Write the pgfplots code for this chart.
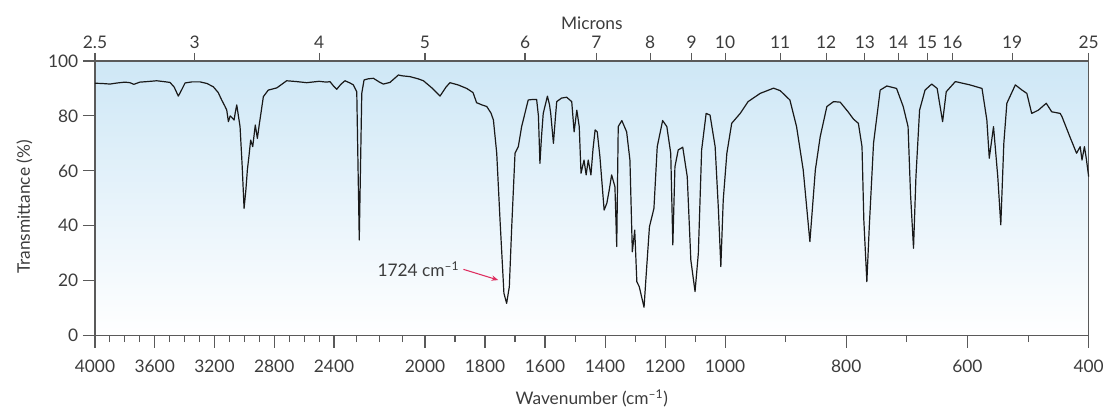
\documentclass[border=0pt]{standalone}
\usepackage{fontspec}
\setmainfont{Lato}
\usepackage{pgfplots}
\pgfplotsset{compat=1.18}
\usetikzlibrary{arrows.meta}
\definecolor{axgray}{RGB}{90,90,90}
\definecolor{txtgray}{RGB}{60,60,60}
\definecolor{bgblue}{RGB}{206,231,246}
\definecolor{arrowred}{RGB}{222,45,95}
\definecolor{specblack}{RGB}{25,25,25}

\pgfplotsset{
  irtrafo/.style={
    x coord trafo/.code={\pgfmathparse{(##1>=2400) ? ((4000-##1)*0.149375) : ((##1>=2000) ? (239+(2400-##1)*0.2275) : ((##1>=1000) ? (330+(2000-##1)*0.3) : (630+(1000-##1)*0.606)))}},
  },
  common/.style={
    irtrafo,
    scale only axis, width=745.3pt, height=205.9pt,
    xmin=4000, xmax=400, ymin=0, ymax=100,
    tick align=outside,
    /pgf/number format/assume math mode=true,
    ticklabel style={font=\fontsize{13}{15}\selectfont, text=txtgray},
    label style={font=\fontsize{13}{15}\selectfont, text=txtgray},
  }
}

\pgfplotstableread{
w T
4000 91.9
3950 91.8
3900 91.6
3850 92.0
3800 92.3
3766 92.1
3740 91.5
3700 92.3
3650 92.5
3587 92.8
3540 92.5
3498 92.2
3470 90.5
3442 87.2
3420 89.5
3397 92.0
3350 92.4
3297 92.4
3250 91.8
3208 90.6
3175 88.5
3152 85.8
3130 83.5
3118 82.1
3107 77.9
3095 80.0
3085 79.5
3069 78.5
3060 81.5
3051 84.0
3040 80.0
3029 76.1
3015 62.0
3002 46.3
2990 53.0
2980 60.3
2968 66.0
2958 71.2
2944 68.8
2935 73.0
2927 76.7
2913 71.8
2900 77.0
2891 80.3
2873 87.0
2840 89.4
2783 90.2
2750 91.5
2717 92.8
2650 92.5
2583 92.1
2500 92.6
2450 92.3
2427 92.5
2405 91.0
2388 89.7
2370 91.5
2352 92.8
2330 92.0
2315 91.3
2300 88.8
2289 34.8
2278 88.2
2268 93.1
2250 93.5
2227 93.7
2200 92.3
2183 91.6
2154 92.2
2117 94.9
2100 94.6
2066 94.3
2030 93.5
2007 92.8
1975 90.0
1950 87.2
1930 90.5
1917 92.1
1890 91.3
1861 90.0
1840 88.5
1828 84.8
1810 84.0
1794 83.4
1780 81.0
1772 78.5
1761 66.4
1750 42.1
1737 15.4
1728 11.7
1719 17.8
1711 39.6
1700 66.4
1689 68.8
1678 76.1
1656 85.8
1640 86.0
1628 86.0
1622 80.0
1617 62.7
1612 72.0
1606 80.9
1592 87.2
1585 84.0
1581 80.9
1572 70.0
1565 80.0
1561 85.2
1545 86.5
1528 86.8
1511 85.2
1503 74.2
1494 82.1
1486 76.1
1480 59.1
1470 63.9
1463 58.5
1456 63.9
1447 58.5
1440 68.0
1433 74.9
1426 74.2
1417 65.1
1403 45.7
1394 48.2
1386 53.0
1378 58.5
1367 54.2
1361 32.4
1356 76.1
1344 78.3
1328 74.2
1317 63.9
1309 30.5
1301 38.4
1294 19.6
1286 17.8
1270 10.3
1261 25.1
1252 39.6
1237 46.3
1226 68.8
1208 78.3
1194 76.1
1181 66.4
1174 33.0
1167 61.5
1156 67.6
1141 68.6
1126 57.9
1114 27.5
1100 16.0
1089 29.9
1078 67.6
1063 80.9
1050 80.3
1033 68.8
1022 45.7
1014 25.1
1006 49.4
997 66.4
989 77.3
975 80.9
962 85.2
942 88.2
920 90.1
909 89.2
893 85.8
882 76.1
871 60.3
860 34.2
851 60.3
843 72.4
832 83.4
821 85.2
810 85.0
797 81.5
788 78.8
780 77.3
774 68.8
771 42.1
766 19.6
762 39.6
755 70.0
744 89.4
733 90.9
717 90.0
706 83.4
698 76.1
694 51.8
689 31.8
685 57.9
679 82.1
670 89.4
659 91.6
650 90.0
641 77.9
635 88.8
620 92.5
596 91.3
576 90.0
568 78.5
564 64.6
557 76.1
550 57.9
545 40.3
540 70.0
535 84.6
521 91.3
510 89.4
502 88.2
494 80.9
483 82.1
470 84.6
461 81.5
447 80.9
444 79.7
431 72.4
420 66.4
414 68.8
411 63.9
407 68.8
404 64.6
400 57.9
}\spectrum

\begin{document}
\begin{tikzpicture}
\begin{axis}[common, name=ax,
  axis background/.style={top color=bgblue, bottom color=white},
  axis line style={axgray, line width=0.8pt},
  xtick={4000,3600,3200,2800,2400,2000,1800,1600,1400,1200,1000,800,600,400},
  xticklabels={4000,3600,3200,2800,2400,2000,1800,1600,1400,1200,1000,800,600,400},
  minor xtick={3900,3800,3700,3500,3400,3300,3100,3000,2900,2700,2600,2500,2300,2200,2100,1900,1700,1500,1300,1100,900,700,500},
  ytick={0,20,40,60,80,100},
  yticklabels={0,20,40,60,80,100},
  xtick pos=left, ytick pos=left,
  major tick length=9pt, minor tick length=5pt,
  every tick/.style={axgray, line width=0.8pt},
  xticklabel style={yshift=-6pt},
  xlabel={Wavenumber (cm\textsuperscript{–1})},
  ylabel={Transmittance (\%)},
  xlabel style={at={([yshift=-47pt]axis description cs:0.5,0)}, anchor=center},
  ylabel style={at={([xshift=-53pt]axis description cs:0,0.468)}, anchor=center},
  clip=false,
]
\addplot[specblack, line width=0.9pt, line join=round] table[x=w, y=T] {\spectrum};
\draw[-{Stealth[length=5pt,width=4pt]}, arrowred, line width=0.8pt] (axis cs:1872,24.1) -- (axis cs:1756,20.2);
\node[anchor=east, text=txtgray, font=\fontsize{13}{15}\selectfont, inner sep=1pt] at (axis cs:1880,24.3) {1724 cm\textsuperscript{–1}};
\end{axis}
\begin{axis}[common,
  axis x line*=top, hide y axis,
  axis line style={axgray, line width=0.8pt},
  xtick={4000,3333.33,2500,2000,1666.67,1428.57,1250,1111.11,1000,909.09,833.33,769.23,714.29,666.67,625,526.32,400},
  xticklabels={2.5,3,4,5,6,7,8,9,10,11,12,13,14,15,16,19,25},
  major tick length=6pt,
  every tick/.style={axgray, line width=0.8pt},
  xlabel={Microns},
  xlabel style={at={([yshift=28.5pt]axis description cs:0.5,1)}, anchor=center},
]
\end{axis}
\pgfresetboundingbox
\path ([shift={(-71.25pt,-56.6pt)}]ax.south west) rectangle ([shift={(17.5pt,45.75pt)}]ax.north east);
\end{tikzpicture}
\end{document}
